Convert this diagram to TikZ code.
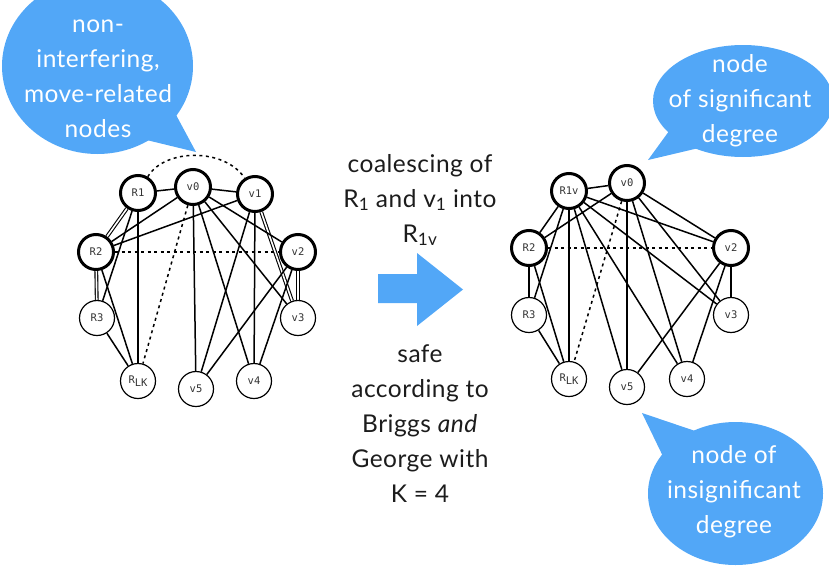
\documentclass[tikz,border=0pt]{standalone}
\usepackage{fontspec}
\setmainfont{Lato}[LetterSpace=2]
\newfontfamily\labelfont{DejaVu Sans Mono}
\usetikzlibrary{backgrounds}

\definecolor{callout}{RGB}{82,167,247}
\definecolor{ink}{RGB}{28,28,28}

\begin{document}
\begin{tikzpicture}[x=1pt,y=-1pt,
  vtx/.style={circle, draw=black, line width=1.2pt, fill=white, minimum size=35pt,
              inner sep=0pt, font=\labelfont\fontsize{10.5}{11}\selectfont, text=ink!90},
  heavy/.style={vtx, line width=3pt},
  edge/.style={line width=1.5pt},
  twin/.style={line width=1.1pt, double=white, double distance=1.6pt},
  move/.style={line width=1.5pt, dash pattern=on 3pt off 3.5pt},
  btext/.style={text=white, align=center, font=\fontsize{24.5}{35}\selectfont,
                inner sep=0pt, anchor=base},
  mtext/.style={text=ink, align=center, font=\fontsize{24.5}{35}\selectfont,
                inner sep=0pt, anchor=base},
]
\useasboundingbox (0,0) rectangle (829,570);
\clip (0,0) rectangle (829,570);

% speech bubbles
\fill[callout] (97.5,66) ellipse [x radius=95.5, y radius=88];
\fill[callout] (130,136) -- (196,152) -- (168,100) -- cycle;
\fill[callout] (743,101) ellipse [x radius=90, y radius=56];
\fill[callout] (680,116) -- (648,160) -- (720,143) -- cycle;
\fill[callout] (735.5,493.5) ellipse [x radius=87.5, y radius=71.5];
\fill[callout] (672,475) -- (642,413) -- (710,436) -- cycle;

% bubble texts (anchored at the baseline of their last line)
\node[btext] (bubA) at (98,137) {non-\\interfering,\\move-related\\nodes};
\node[btext] (bubB) at (740,142) {node\\of significant\\degree};
\node[btext] (bubC) at (734,533) {node of\\insignificant\\degree};

% transition arrow and captions
\fill[callout] (378,274) -- (417,274) -- (417,253) -- (463,289.5) -- (417,326)
  -- (417,303) -- (378,303) -- cycle;
\node[mtext] (coalesce) at (420,242)
  {coalescing of\\R\textsubscript{1} and v\textsubscript{1} into\\R\textsubscript{1v}};
\node[mtext] (safety) at (420,502)
  {safe\\according to\\Briggs \textit{and}\\George with\\K = 4};

% interference graph before coalescing
\node[heavy] (lR1) at (138,193) {R1};
\node[heavy] (lv0) at (193,187) {v0};
\node[heavy] (lv1) at (255,194) {v1};
\node[heavy] (lR2) at (96,252) {R2};
\node[heavy] (lv2) at (298,252) {v2};
\node[vtx] (lR3) at (97,318) {R3};
\node[vtx] (lv3) at (298,318) {v3};
\node[vtx] (lRLK) at (138,381) {R\raisebox{-3pt}{LK}};
\node[vtx] (lv5) at (196,389) {v5};
\node[vtx] (lv4) at (254,381) {v4};

% interference graph after coalescing
\node[heavy] (rR1v) at (569,191) {R1v};
\node[heavy] (rv0) at (627,183) {v0};
\node[heavy] (rR2) at (529,248) {R2};
\node[heavy] (rv2) at (731,248) {v2};
\node[vtx] (rR3) at (529,315) {R3};
\node[vtx] (rv3) at (731,315) {v3};
\node[vtx] (rRLK) at (569,379) {R\raisebox{-3pt}{LK}};
\node[vtx] (rv5) at (627,387) {v5};
\node[vtx] (rv4) at (687,379) {v4};

\begin{scope}[on background layer]
  % left graph: doubled edges first
  \draw[twin] (lR1) -- (lR2);
  \draw[twin] (lR2) -- (lR3);
  \draw[twin] (lv1) -- (lv3);
  \draw[twin] (lv2) -- (lv3);
  % left graph: interference edges
  \draw[edge] (lR1) -- (lv0);
  \draw[edge] (lv0) -- (lv1);
  \draw[edge] (lR1) -- (lR3);
  \draw[edge] (lR1) -- (lRLK);
  \draw[edge] (lv0) -- (lR2);
  \draw[edge] (lv1) -- (lR2);
  \draw[edge] (lR2) -- (lRLK);
  \draw[edge] (lR3) -- (lRLK);
  \draw[edge] (lv0) -- (lv5);
  \draw[edge] (lv0) -- (lv4);
  \draw[edge] (lv0) -- (lv3);
  \draw[edge] (lv0) -- (lv2);
  \draw[edge] (lv1) -- (lv5);
  \draw[edge] (lv1) -- (lv4);
  \draw[edge] (lv2) -- (lv5);
  \draw[edge] (lv2) -- (lv4);
  % left graph: move edges
  \draw[move] (lR1) .. controls (165,148) and (225,148) .. (lv1);
  \draw[move] (lR2) -- (lv2);
  \draw[move] (lv0) -- (lRLK);

  % right graph: interference edges
  \draw[edge] (rR1v) -- (rv0);
  \draw[edge] (rR1v) -- (rR2);
  \draw[edge] (rR1v) -- (rR3);
  \draw[edge] (rR1v) -- (rRLK);
  \draw[edge] (rR1v) -- (rv5);
  \draw[edge] (rR1v) -- (rv4);
  \draw[edge] (rR1v) -- (rv3);
  \draw[edge] (rR1v) -- (rv2);
  \draw[edge] (rv0) -- (rR2);
  \draw[edge] (rv0) -- (rv5);
  \draw[edge] (rv0) -- (rv4);
  \draw[edge] (rv0) -- (rv3);
  \draw[edge] (rv0) -- (rv2);
  \draw[edge] (rR2) -- (rR3);
  \draw[edge] (rR2) -- (rRLK);
  \draw[edge] (rR3) -- (rRLK);
  \draw[edge] (rv2) -- (rv5);
  \draw[edge] (rv2) -- (rv4);
  \draw[edge] (rv2) -- (rv3);
  % right graph: move edges
  \draw[move] (rR2) -- (rv2);
  \draw[move] (rv0) -- (rRLK);
\end{scope}
\end{tikzpicture}
\end{document}
